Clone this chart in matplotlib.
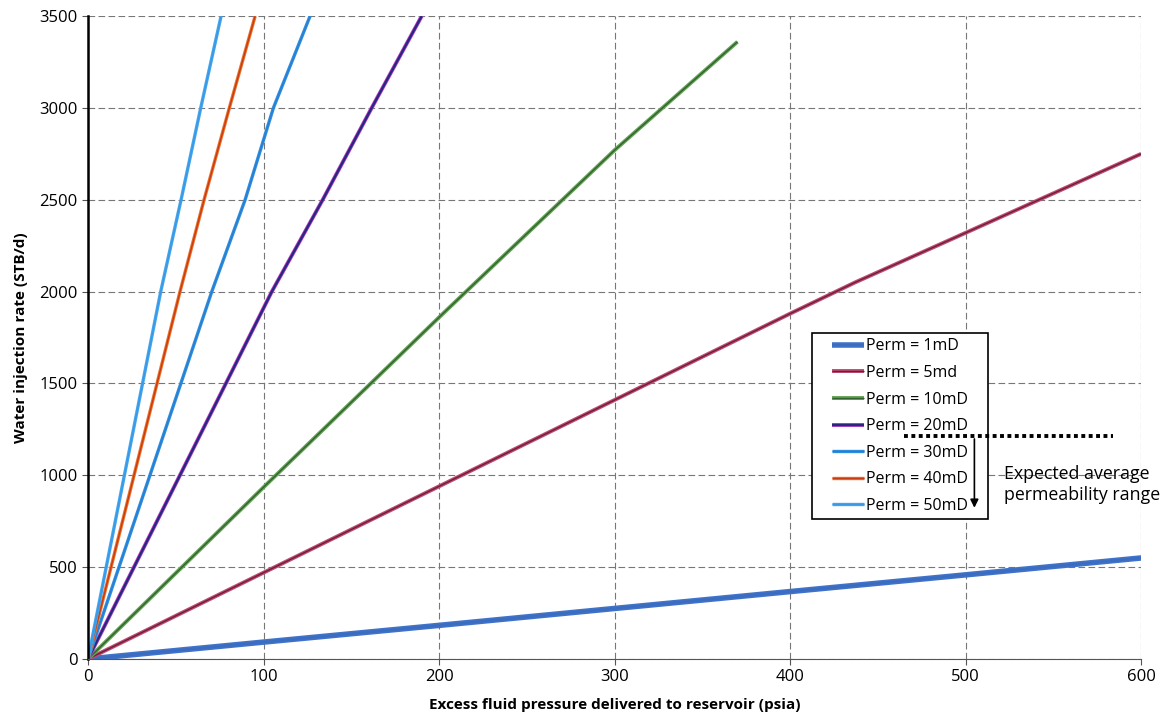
import matplotlib
matplotlib.use("Agg")
import matplotlib.pyplot as plt
import matplotlib.patheffects as pe
from matplotlib.patches import Rectangle

plt.rcParams['font.family'] = ['Open Sans', 'DejaVu Sans']

# excess pressure (psia) vs water injection rate (STB/d)
p_1md = [0, 100, 200, 300, 400, 500, 600]
q_1md = [0, 92, 183, 275, 367, 458, 550]
p_5md = [0, 100, 200, 300, 400, 437, 500, 600]
q_5md = [0, 470, 940, 1410, 1880, 2050, 2320, 2750]
p_10md = [0, 100, 200, 300, 370]
q_10md = [0, 935, 1860, 2770, 3360]
p_20md = [0, 104.7, 133.7, 161.6, 190.1]
q_20md = [0, 2000, 2500, 3000, 3500]
p_30md = [0, 70.5, 89.5, 105.6, 126.5]
q_30md = [0, 2000, 2500, 3000, 3500]
p_40md = [0, 52.4, 66.1, 80.5, 95.2]
q_40md = [0, 2000, 2500, 3000, 3500]
p_50md = [0, 41.4, 53.0, 64.2, 75.8]
q_50md = [0, 2000, 2500, 3000, 3500]

labels = ['Perm = 1mD', 'Perm = 5md', 'Perm = 10mD', 'Perm = 20mD',
          'Perm = 30mD', 'Perm = 40mD', 'Perm = 50mD']

series = [(p_1md, q_1md), (p_5md, q_5md), (p_10md, q_10md), (p_20md, q_20md),
          (p_30md, q_30md), (p_40md, q_40md), (p_50md, q_50md)]
# (outer colour, inner colour, width, inner ratio)
styles = [('#3f72c8', '#3a6cc0', 4.0, 0.4),
          ('#c04a72', '#6a2038', 2.8, 0.35),
          ('#62a455', '#35602f', 2.8, 0.35),
          ('#c03ad0', '#262a7a', 2.8, 0.6),
          ('#2f8fe0', '#2a7ed0', 2.4, 0.4),
          ('#e8702a', '#c83a10', 2.4, 0.4),
          ('#44a6ee', '#3a98e4', 2.4, 0.4)]

fig = plt.figure(figsize=(11.74, 7.24), dpi=100)
ax = fig.add_axes([0.075, 0.0898, 0.897, 0.888])

for (x, y), lab, (outer, inner, w, r) in zip(series, labels, styles):
    ax.plot(x, y, color=outer, lw=w, label=lab, solid_capstyle='butt',
            path_effects=[pe.Stroke(linewidth=w, foreground=outer),
                          pe.Stroke(linewidth=w * r, foreground=inner)])

ax.set_xlim(0, 600)
ax.set_ylim(0, 3500)
ax.set_xticks(range(0, 601, 100))
ax.set_yticks(range(0, 3501, 500))
ax.tick_params(labelsize=12, length=4, color='#555555')
ax.grid(True, linestyle=(0, (6, 3)), color='#777777', lw=0.8)

for s in ['top', 'right']:
    ax.spines[s].set_visible(False)
ax.spines['left'].set_linewidth(1.8)
ax.spines['left'].set_color('black')
ax.spines['bottom'].set_color('#555555')

ax.set_xlabel('Excess fluid pressure delivered to reservoir (psia)', fontsize=11, fontweight='bold')
ax.set_ylabel('Water injection rate (STB/d)', fontsize=11, fontweight='bold')
ax.xaxis.set_label_coords(0.5, -0.06)
ax.yaxis.set_label_coords(-0.057, 0.5)

# legend box drawn separately so the padding matches the original
ax.add_patch(Rectangle((0.6876, 0.2177), 0.1671, 0.2893, transform=ax.transAxes,
                       facecolor='white', edgecolor='black', lw=1.2, zorder=5))
leg = ax.legend(loc='upper left', bbox_to_anchor=(0.7065, 0.4985), fontsize=11.5,
                frameon=False, handlelength=2.0, handletextpad=0.15,
                borderpad=0, labelspacing=0.66, borderaxespad=0)
leg.set_zorder(6)

# expected permeability range annotation (drawn over the legend)
ax.plot([465, 584], [1213, 1213], color='black', lw=2.8, linestyle=(0, (1, 0.9)), zorder=7)
ax.annotate('', xy=(505, 808), xytext=(505, 1213),
            arrowprops=dict(arrowstyle='-|>', color='black', lw=1.2, mutation_scale=12),
            zorder=7)
ax.text(522, 950, 'Expected average\npermeability range', fontsize=12.8,
        ha='left', va='center', linespacing=1.25, zorder=7)

fig.savefig('out.png', dpi=100)
